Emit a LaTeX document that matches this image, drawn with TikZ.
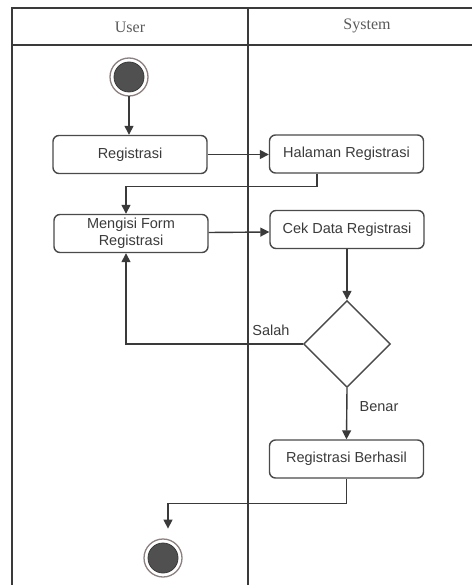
\documentclass[tikz,border=0pt]{standalone}
\usepackage{fontspec}
\setmainfont{Liberation Sans}
\newfontfamily\headfont{Liberation Serif}
\usetikzlibrary{arrows.meta,shapes.geometric}
\definecolor{edge}{HTML}{4A4A4A}
\definecolor{frame}{HTML}{3A3A3A}
\definecolor{txt}{HTML}{3A3A3A}
\definecolor{head}{HTML}{5A5A5A}
\definecolor{dot}{HTML}{505050}
\definecolor{ring}{HTML}{8C7F7F}
\tikzset{
  actbox/.style={draw=edge,line width=1.4pt,rounded corners=6pt,minimum width=154pt,minimum height=38pt,inner sep=0pt,align=center,text=txt,font=\fontsize{14.5}{17}\selectfont},
  decbox/.style={draw=edge,line width=1.4pt,shape=diamond,minimum width=87pt,minimum height=87pt,inner sep=0pt},
  arr/.style={draw=frame,line width=1.4pt,-{Triangle[length=9pt,width=9pt]}},
  link/.style={draw=frame,line width=1.4pt},
  lbl/.style={text=txt,font=\fontsize{14.5}{17}\selectfont,inner sep=0pt},
  hdr/.style={text=head,font=\headfont\fontsize{16}{19}\selectfont,inner sep=0pt},
  lane/.style={draw=frame,line width=1.5pt},
  startdot/.style={circle,fill=dot,draw=frame,line width=0.8pt,minimum size=30pt,inner sep=0pt},
}
\begin{document}
\begin{tikzpicture}[x=1pt,y=-1pt]
\useasboundingbox (0,0) rectangle (472,585);
% swimlanes
\draw[lane] (472,8) -- (12,8) -- (12,585);
\draw[lane] (12,45) -- (472,45);
\draw[lane] (248,8) -- (248,585);
\node[hdr] (huser) at (130,27) {User};
\node[hdr] (hsys) at (367,26) {System};
% start / end
\node[startdot] (start) at (129,77) {};
\draw[ring,line width=1.3pt] (start) circle (19pt);
\node[startdot] (end) at (163,558) {};
\draw[ring,line width=1.3pt] (end) circle (19pt);
% activities
\node[actbox] (reg) at (130,154.5) {Registrasi};
\node[actbox] (hal) at (346.5,154) {Halaman Registrasi};
\node[actbox] (form) at (131,233.5) {Mengisi Form\\Registrasi};
\node[actbox] (cek) at (347,229.5) {Cek Data Registrasi};
\node[decbox] (dec) at (347,344) {};
\node[actbox] (ok) at (346.5,459) {Registrasi Berhasil};
% connectors
\draw[arr] ([yshift=-19pt]start.center) -- (start |- reg.north);
\draw[arr] (reg.east) -- (reg.east -| hal.west);
\draw[arr] ([xshift=-29.5pt]hal.south) -- ++(0,13) -| ([xshift=-5pt]form.north);
\draw[arr] (form.east) ++(0,-1) -- (cek.west |- 0,232);
\draw[arr] (cek.south) -- (dec.north);
\draw[arr] (dec.west) -| ([xshift=-5pt]form.south);
\draw[arr] (dec.south) -- (ok.north);
\draw[arr] (ok.south) -- ++(0,25) -| ([xshift=5pt,yshift=14pt]end.north);
% labels
\node[lbl] (salah) at (271,330) {Salah};
\node[lbl] (benar) at (379,407) {Benar};
\end{tikzpicture}
\end{document}
